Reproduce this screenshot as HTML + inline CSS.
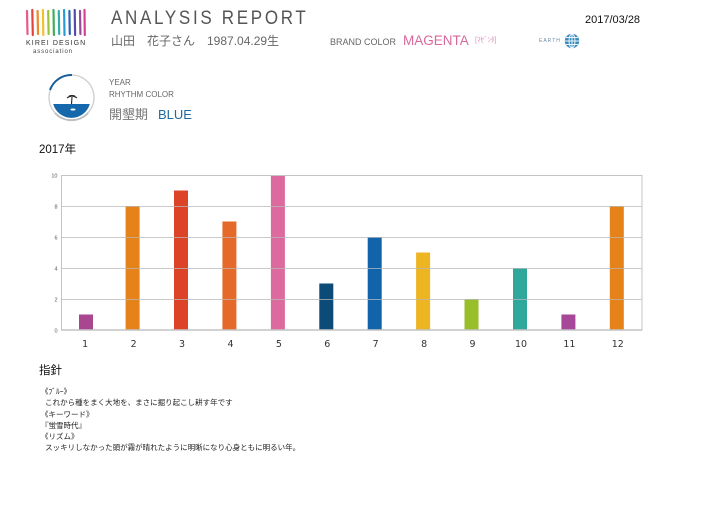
<!DOCTYPE html>
<html><head><meta charset="utf-8">
<style>
html,body{margin:0;padding:0;background:#fff;}
body{width:720px;height:508px;position:relative;overflow:hidden;font-family:"Liberation Sans","Noto Sans CJK JP",sans-serif;}
.a{position:absolute;white-space:nowrap;line-height:1;}
</style></head><body>

<svg width="720" height="508" style="position:absolute;left:0;top:0" xmlns="http://www.w3.org/2000/svg">
  <!-- logo stripes -->
  <g stroke-width="2.2" stroke-linecap="round">
    <line x1="27" y1="11" x2="27.5" y2="34" stroke="#e85a8a"/>
    <line x1="32.3" y1="10" x2="32.8" y2="35" stroke="#e4443c"/>
    <line x1="37.6" y1="11" x2="38" y2="34" stroke="#ef8a26"/>
    <line x1="42.9" y1="10" x2="43.3" y2="35" stroke="#f3c22a"/>
    <line x1="48.2" y1="11" x2="48.6" y2="34" stroke="#9cc43a"/>
    <line x1="53.5" y1="10" x2="53.9" y2="35" stroke="#45ac5a"/>
    <line x1="58.8" y1="11" x2="59.2" y2="34" stroke="#2fb0a4"/>
    <line x1="64.1" y1="10" x2="64.5" y2="35" stroke="#2a9ad4"/>
    <line x1="69.4" y1="11" x2="69.8" y2="34" stroke="#2d62b5"/>
    <line x1="74.7" y1="10" x2="75.1" y2="35" stroke="#5a4aa8"/>
    <line x1="80" y1="11" x2="80.4" y2="34" stroke="#9a47a0"/>
    <line x1="84.5" y1="10" x2="84.8" y2="35" stroke="#d0468e"/>
  </g>

  <!-- year rhythm circle -->
  <circle cx="71.5" cy="97.5" r="22.5" fill="none" stroke="#cfcfcf" stroke-width="1.3"/>
  <path d="M55 113 A22.5 22.5 0 0 0 88 113" fill="none" stroke="#bdbdbd" stroke-width="1.8"/>
  <path d="M50 90 A22.5 22.5 0 0 1 72 75" fill="none" stroke="#1a5f9a" stroke-width="2"/>
  <path d="M53.2 104 L89.8 104 A19 19 0 0 1 53.2 104 Z" fill="#1568ab"/>
  <line x1="72" y1="97" x2="71.5" y2="104" stroke="#222" stroke-width="1.1"/>
  <path d="M67 98 Q72 94 77 98 M69 96 Q72 95 75 96" fill="none" stroke="#222" stroke-width="1.1"/>
  <ellipse cx="73" cy="109.5" rx="2.5" ry="1" fill="#fff"/>

  <!-- globe -->
  <circle cx="572" cy="41" r="7.2" fill="#3a8cc0"/>
  <g stroke="#fff" stroke-width="0.9" fill="none">
    <ellipse cx="572" cy="41" rx="3" ry="7"/>
    <line x1="565" y1="41" x2="579" y2="41"/>
    <line x1="566" y1="37.5" x2="578" y2="37.5"/>
    <line x1="566" y1="44.5" x2="578" y2="44.5"/>
    <line x1="572" y1="34" x2="572" y2="48"/>
  </g>

  <!-- chart -->
  <g>
    <rect x="79" y="314.5" width="14" height="15.5" fill="#a8468f"/>
    <rect x="125.6" y="206" width="14" height="124" fill="#e6821a"/>
    <rect x="174" y="190.5" width="14" height="139.5" fill="#dd4427"/>
    <rect x="222.4" y="221.5" width="14" height="108.5" fill="#e56a2a"/>
    <rect x="270.9" y="175" width="14" height="155" fill="#dc6a9f"/>
    <rect x="319.3" y="283.5" width="14" height="46.5" fill="#0c4a78"/>
    <rect x="367.7" y="237" width="14" height="93" fill="#1164aa"/>
    <rect x="416.1" y="252.5" width="14" height="77.5" fill="#eeb522"/>
    <rect x="464.5" y="299" width="14" height="31" fill="#98be2a"/>
    <rect x="513" y="268" width="14" height="62" fill="#2fa89b"/>
    <rect x="561.4" y="314.5" width="14" height="15.5" fill="#a6479a"/>
    <rect x="609.8" y="206" width="14" height="124" fill="#e6821a"/>
  </g>
  <g stroke="#b8b8b8" stroke-opacity="0.75" stroke-width="1">
    <line x1="61" y1="206.5" x2="642" y2="206.5"/>
    <line x1="61" y1="237.5" x2="642" y2="237.5"/>
    <line x1="61" y1="268.5" x2="642" y2="268.5"/>
    <line x1="61" y1="299.5" x2="642" y2="299.5"/>
  </g>
  <rect x="61.5" y="175.5" width="580.5" height="154.5" fill="none" stroke="#c4c4c4" stroke-width="1"/>
  <line x1="61" y1="330" x2="642" y2="330" stroke="#c4c4c4" stroke-width="1.5"/>

  <g font-family="Liberation Sans, sans-serif" font-size="5.5" fill="#555" text-anchor="end">
    <text x="57.5" y="177.5">10</text>
    <text x="57.5" y="208.5">8</text>
    <text x="57.5" y="239.5">6</text>
    <text x="57.5" y="270.5">4</text>
    <text x="57.5" y="301.5">2</text>
    <text x="57.5" y="332.5">0</text>
  </g>
  <g font-family="DejaVu Sans, Liberation Sans, sans-serif" font-size="9.5" fill="#333" text-anchor="middle">
    <text x="85.2" y="347">1</text>
    <text x="133.6" y="347">2</text>
    <text x="182" y="347">3</text>
    <text x="230.5" y="347">4</text>
    <text x="278.9" y="347">5</text>
    <text x="327.3" y="347">6</text>
    <text x="375.7" y="347">7</text>
    <text x="424.1" y="347">8</text>
    <text x="472.5" y="347">9</text>
    <text x="521" y="347">10</text>
    <text x="569.4" y="347">11</text>
    <text x="617.8" y="347">12</text>
  </g>
</svg>

<div class="a" style="left:26px;top:40px;font-size:7px;letter-spacing:1.1px;color:#333;">KIREI DESIGN</div>
<div class="a" style="left:33px;top:49px;font-size:6px;letter-spacing:0.9px;color:#444;">association</div>

<div class="a" style="left:111px;top:9px;font-size:19px;letter-spacing:3px;color:#555;transform:scaleX(0.895);transform-origin:0 0;">ANALYSIS REPORT</div>
<div class="a" style="left:111px;top:35px;font-size:12px;color:#666;font-family:'Liberation Sans','Noto Sans CJK JP',sans-serif;">山田　花子さん　1987.04.29生</div>
<div class="a" style="left:330px;top:38px;font-size:9px;color:#666;">BRAND COLOR</div>
<div class="a" style="left:403px;top:34px;font-size:13.5px;color:#d9679c;">MAGENTA</div>
<div class="a" style="left:475px;top:37px;font-size:7px;color:#e08ab5;font-family:'Liberation Sans','Noto Sans CJK JP',sans-serif;">[ﾏｾﾞﾝﾀ]</div>
<div class="a" style="left:539px;top:38.5px;font-size:5px;letter-spacing:1px;color:#6a8aa8;">EARTH</div>
<div class="a" style="left:585px;top:15px;font-size:11px;color:#111;">2017/03/28</div>

<div class="a" style="left:109px;top:79px;font-size:8px;color:#666;">YEAR</div>
<div class="a" style="left:109px;top:91px;font-size:8px;color:#666;">RHYTHM COLOR</div>
<div class="a" style="left:109px;top:108px;font-size:13px;color:#777;font-family:'Liberation Sans','Noto Sans CJK JP',sans-serif;">開墾期</div>
<div class="a" style="left:158px;top:108px;font-size:13px;color:#1e6aa5;">BLUE</div>

<div class="a" style="left:39px;top:145px;font-size:11.5px;color:#111;font-family:'Liberation Sans','Noto Sans CJK JP',sans-serif;">2017年</div>

<div class="a" style="left:39px;top:366px;font-size:11.5px;color:#111;font-family:'Liberation Sans','Noto Sans CJK JP',sans-serif;">指針</div>
<div style="position:absolute;left:41px;top:386px;font-size:7.5px;line-height:11.3px;color:#222;font-family:'Liberation Sans','Noto Sans CJK JP',sans-serif;white-space:nowrap;">
《ﾌﾞﾙｰ》<br>
&nbsp;&nbsp;これから種をまく大地を、まさに掘り起こし耕す年です<br>
《キーワード》<br>
『蛍雪時代』<br>
《リズム》<br>
&nbsp;&nbsp;スッキリしなかった頭が霧が晴れたように明晰になり心身ともに明るい年。
</div>

</body></html>
